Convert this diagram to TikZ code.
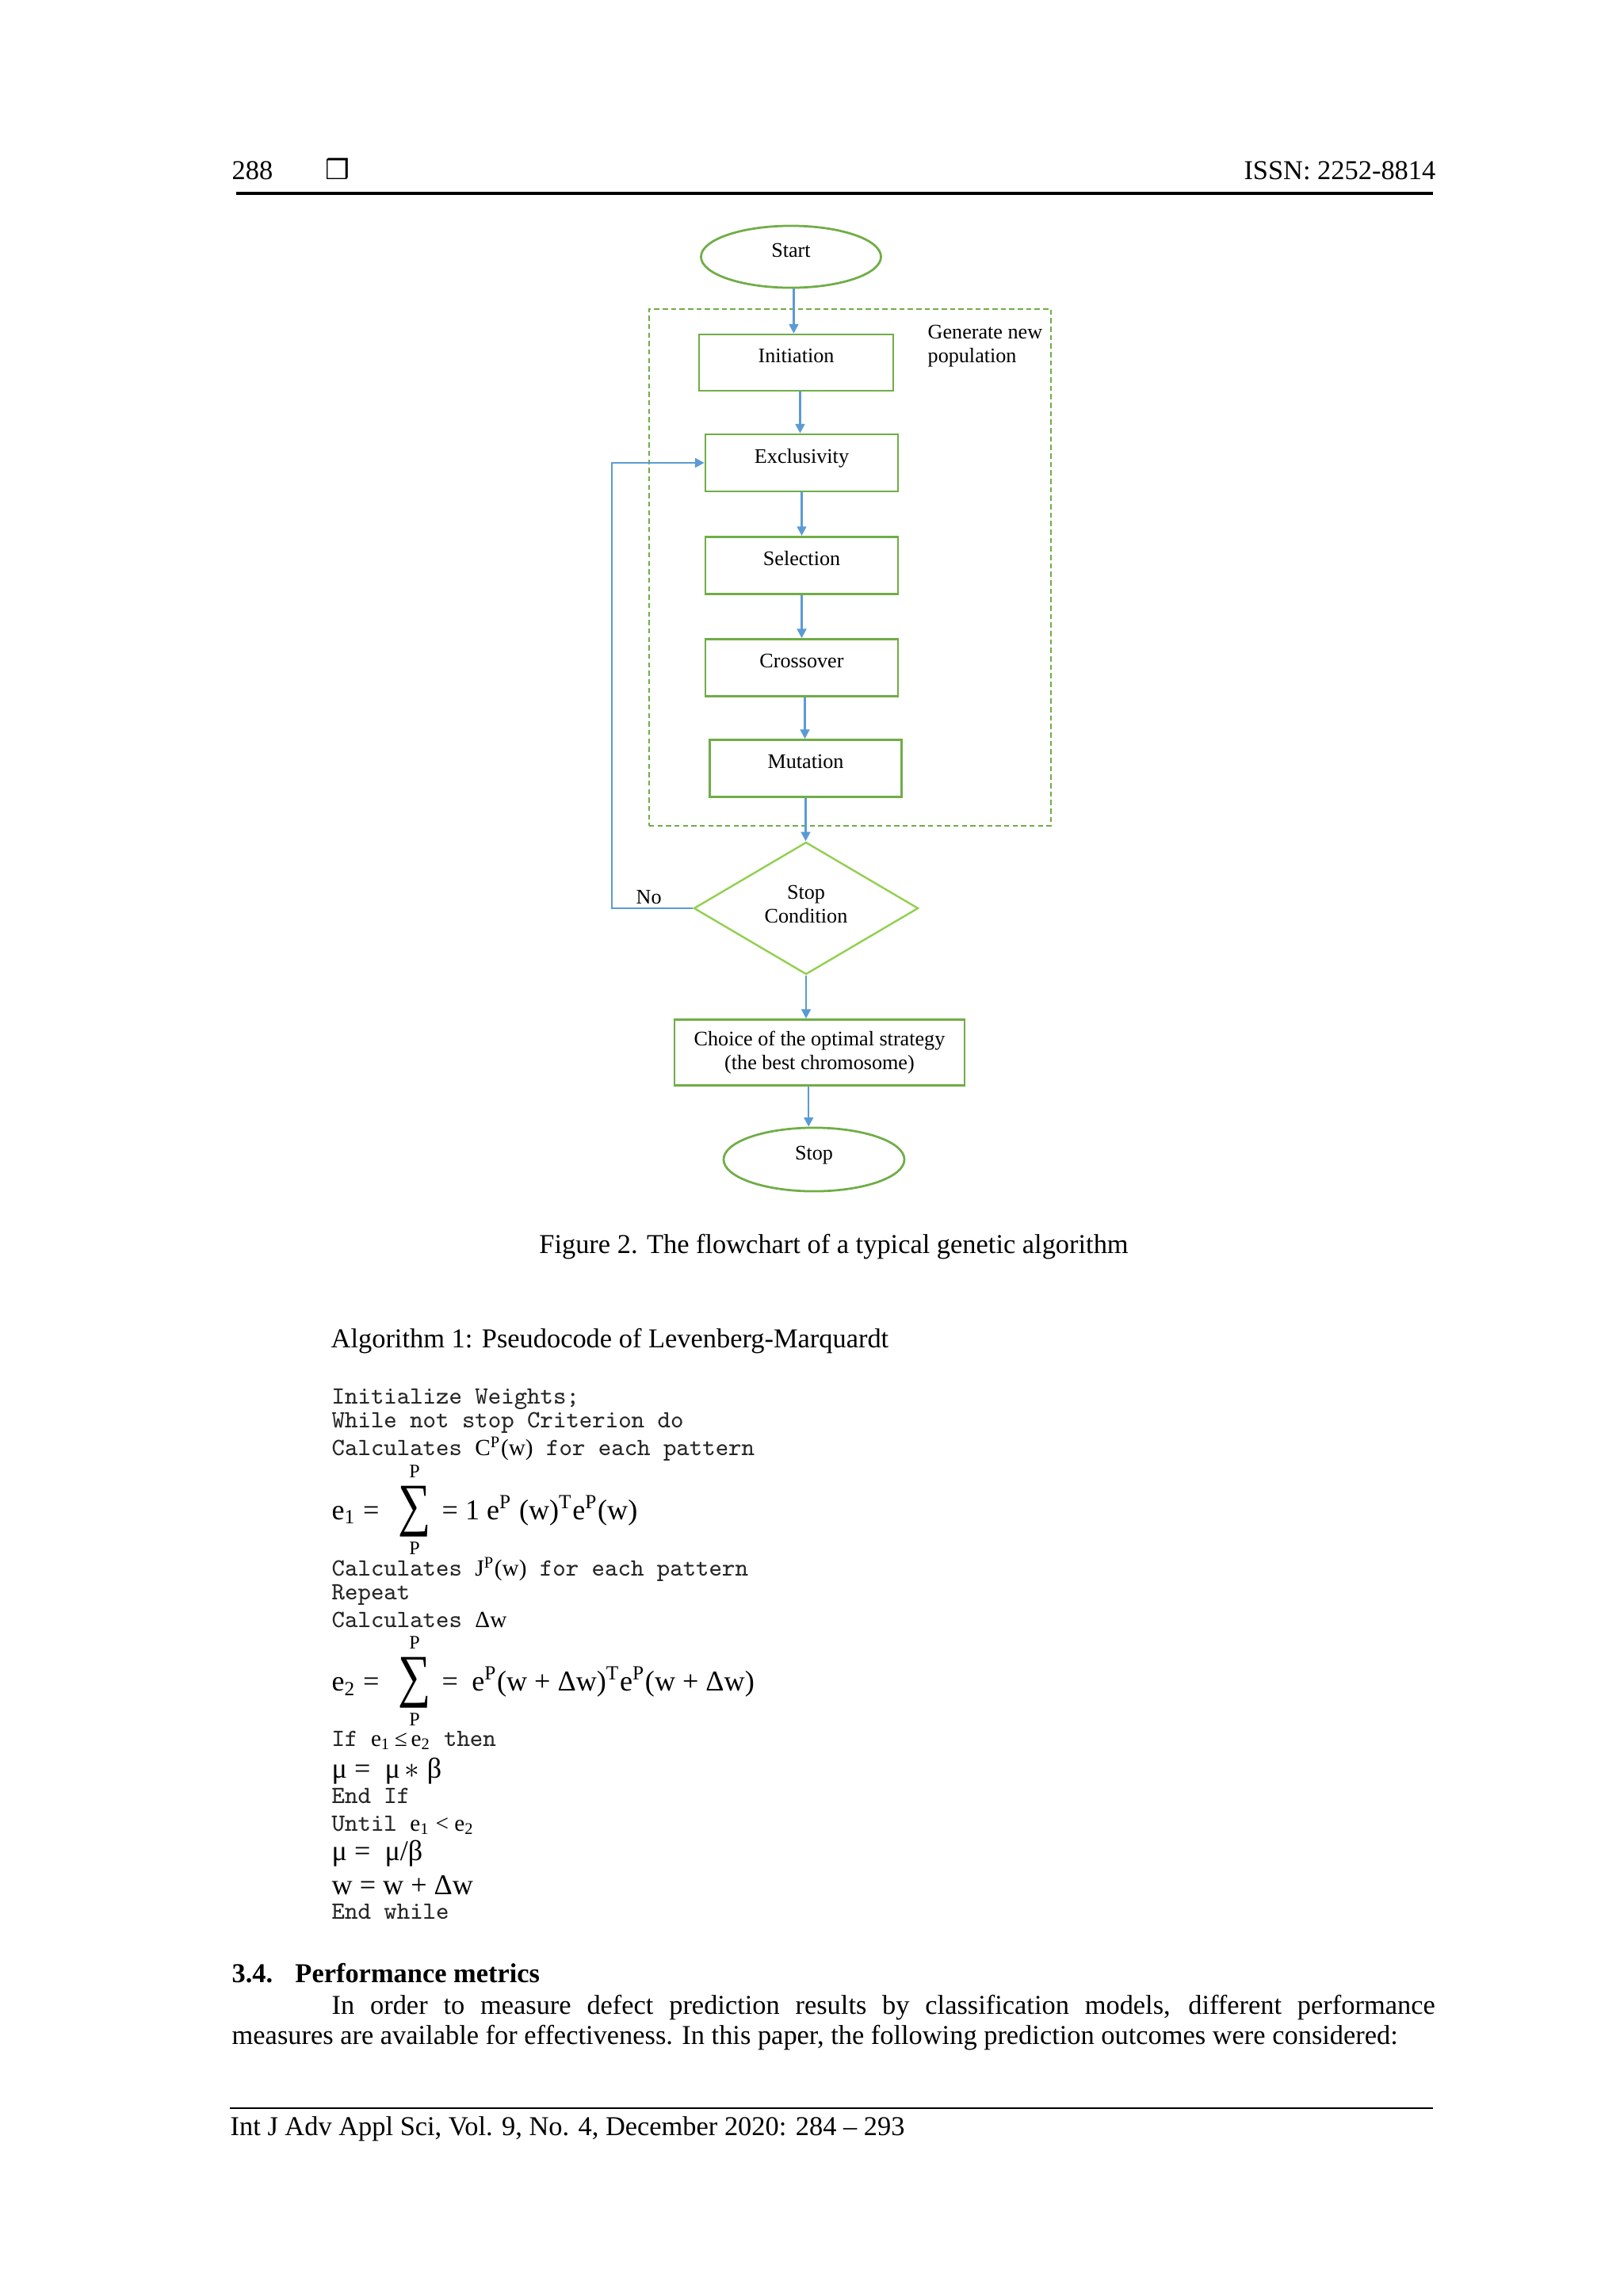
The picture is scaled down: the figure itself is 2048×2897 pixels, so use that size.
\documentclass[tikz,border=0pt]{standalone}
\usepackage{fontspec}
\setmainfont{Liberation Serif}
\newfontfamily\symfont{DejaVu Sans}
\usepackage{graphicx}
\usetikzlibrary{shapes.geometric,arrows.meta,calc}
\definecolor{boxgreen}{HTML}{70AD47}
\definecolor{diagreen}{HTML}{92D050}
\definecolor{arrblue}{HTML}{5B9BD5}
\newcommand{\fcfont}{\fontsize{7.6pt}{8.9pt}\selectfont}
\newcommand{\fm}{\rmfamily\fontsize{8.5pt}{10pt}\selectfont}
\newcommand{\eqfont}{\rmfamily\fontsize{10.5pt}{12pt}\selectfont}
\newcommand{\limfont}{\rmfamily\fontsize{7pt}{8pt}\selectfont}
\newcommand{\codefont}{\ttfamily\fontsize{9.1pt}{10pt}\selectfont}
\newcommand{\bigsum}{\resizebox*{12pt}{18.6pt}{∑}}
\begin{document}
\begin{tikzpicture}[x=0.29066pt,y=-0.29066pt,
  fcbox/.style={draw=boxgreen,line width=0.8pt,rectangle,inner sep=0pt,font=\fcfont},
  lift/.style={text height=5pt,text depth=5pt},
  fcoval/.style={draw=boxgreen,line width=0.8pt,ellipse,inner sep=0pt,font=\fcfont,text height=5pt,text depth=5pt},
  fcdec/.style={draw=diagreen,line width=0.7pt,diamond,aspect=1.7,inner sep=0pt,font=\fcfont,align=center},
  arr/.style={draw=arrblue,line width=0.7pt,-{Triangle[length=3.4pt,width=3.4pt]}},
  grp/.style={draw=boxgreen,line width=0.6pt,dash pattern=on 1.9pt off 1.2pt,rectangle,inner sep=0pt},
  txt/.style={inner sep=0pt,anchor=base west},
  code/.style={inner sep=0pt,anchor=base west,font=\codefont,text=black!85},
  eq/.style={inner sep=0pt,anchor=base west,font=\eqfont},
  lim/.style={inner sep=0pt,anchor=base,font=\limfont},
]
\useasboundingbox (0,0) rectangle (2048,2897);

% header
\node[txt] (pnum) at (292,226.5) {288};
\node[txt,font=\symfont\fontsize{10pt}{12pt}\selectfont] (sq) at (410,226) {❒};
\node[inner sep=0pt,anchor=base east] (issn) at (1812,226.5) {ISSN: 2252-8814};
\draw[line width=1.2pt] (298,244) -- (1808,244);

% flowchart
\node[grp,minimum width=147.4pt,minimum height=189.5pt] (group) at (1072.5,716) {};
\node[inner sep=0pt,anchor=north west,align=left,font=\fcfont] (glabel) at (1170,409) {Generate new\\population};

\node[fcoval,minimum width=66pt,minimum height=22.7pt] (start) at (998,324) {Start};
\node[fcbox,lift,minimum width=71.2pt,minimum height=20.6pt] (init) at (1004.5,457.5) {Initiation};
\node[fcbox,lift,minimum width=70.6pt,minimum height=20.9pt] (excl) at (1011.5,584) {Exclusivity};
\node[fcbox,lift,minimum width=70.6pt,minimum height=20.9pt] (sel) at (1011.5,713.3) {Selection};
\node[fcbox,lift,minimum width=70.6pt,minimum height=20.9pt] (cross) at (1011.5,842.5) {Crossover};
\node[fcbox,lift,minimum width=70.3pt,minimum height=20.9pt] (mut) at (1016.5,969.5) {Mutation};
\node[fcdec,minimum width=82.3pt,minimum height=48.5pt] (dec) at (1017,1146) {Stop\\Condition\\[-6pt]\mbox{}};
\node[fcbox,align=center,minimum width=106.4pt,minimum height=24.1pt] (choice) at (1034,1328) {Choice of the optimal strategy\\(the best chromosome)};
\node[fcoval,minimum width=66.3pt,minimum height=23.3pt] (stop) at (1027,1463) {Stop};
\node[inner sep=0pt,anchor=base west,font=\fcfont] (no) at (802,1140) {No};

\draw[arr] ([xshift=1pt]start.south) -- ([xshift=1pt]start.south |- init.north);
\draw[arr] ([xshift=1.45pt]init.south) -- ([xshift=1.45pt]init.south |- excl.north);
\draw[arr] (excl.south) -- (excl.south |- sel.north);
\draw[arr] (sel.south) -- (sel.south |- cross.north);
\draw[arr] ([xshift=1.16pt]cross.south) -- ([xshift=1.16pt]cross.south |- mut.north);
\draw[arr] (mut.south) -- (mut.south |- dec.north);
\draw[arr] (dec.south) -- (dec.south |- choice.north);
\draw[arr] ([xshift=-4pt]choice.south) -- ([xshift=-4pt]choice.south |- stop.north);
\draw[arr] (dec.west) -- ++(-102,0) |- (excl.west);

% caption
\node[inner sep=0pt,anchor=base] (cap) at (1052,1581) {Figure 2. The flowchart of a typical genetic algorithm};

% algorithm
\node[txt] (algt) at (417,1700) {Algorithm 1: Pseudocode of Levenberg-Marquardt};
\node[code] (l1) at (418,1771) {Initialize Weights;};
\node[code] (l2) at (418,1801.5) {While not stop Criterion do};
\node[code] (l3) at (418,1836.5) {Calculates {\fm\color{black} C\textsuperscript{P}(w)} for each pattern};

\node[eq] (e1) at (418,1917) {e\textsubscript{1} =};
\node[inner sep=0pt] (sum1) at (523,1907.5) {\bigsum};
\node[lim] (p1a) at (523,1864) {P};
\node[lim] (p1b) at (523,1961) {P};
\node[eq] (r1) at (557,1917) {= 1 e\textsuperscript{P} (w)\textsuperscript{T}e\textsuperscript{P}(w)};

\node[code] (l4) at (418,1988) {Calculates {\fm\color{black} J\textsuperscript{P}(w)} for each pattern};
\node[code] (l5) at (418,2018.5) {Repeat};
\node[code] (l6) at (418,2053) {Calculates {\fm\color{black} Δw}};

\node[eq] (e2) at (418,2133.5) {e\textsubscript{2} =};
\node[inner sep=0pt] (sum2) at (523,2123.5) {\bigsum};
\node[lim] (p2a) at (523,2080.5) {P};
\node[lim] (p2b) at (523,2177.5) {P};
\node[eq] (r2) at (557,2133.5) {=\hspace{5pt}e\textsuperscript{P}(w + Δw)\textsuperscript{T}e\textsuperscript{P}(w + Δw)};

\node[code] (l7) at (418,2203) {If {\fm\color{black} e\textsubscript{1}\,≤\,e\textsubscript{2}} then};
\node[eq] (l8) at (418,2243) {μ =\ \ μ\,$\ast$\ β};
\node[code] (l9) at (418,2275) {End If};
\node[code] (l10) at (418,2310) {Until {\fm\color{black} e\textsubscript{1} < e\textsubscript{2}}};
\node[eq] (l11) at (418,2347) {μ =\ \ μ/β};
\node[eq] (l12) at (418,2390) {w = w +\ Δw};
\node[code] (l13) at (418,2421.5) {End while};

% section
\node[txt,font=\bfseries] (sec) at (292,2501) {\makebox[23.2pt][l]{3.4.}Performance metrics};
\node[txt] (par1) at (418,2541) {\makebox[404.6pt][s]{In order to measure defect prediction results by classification models, different performance}};
\node[txt] (par2) at (292,2579) {measures are available for effectiveness. In this paper, the following prediction outcomes were considered:};

% footer
\draw[line width=0.8pt] (290,2660) -- (1808,2660);
\node[txt] (foot) at (290,2694) {Int J Adv Appl Sci, Vol. 9, No. 4, December 2020: 284 – 293};
\end{tikzpicture}
\end{document}
